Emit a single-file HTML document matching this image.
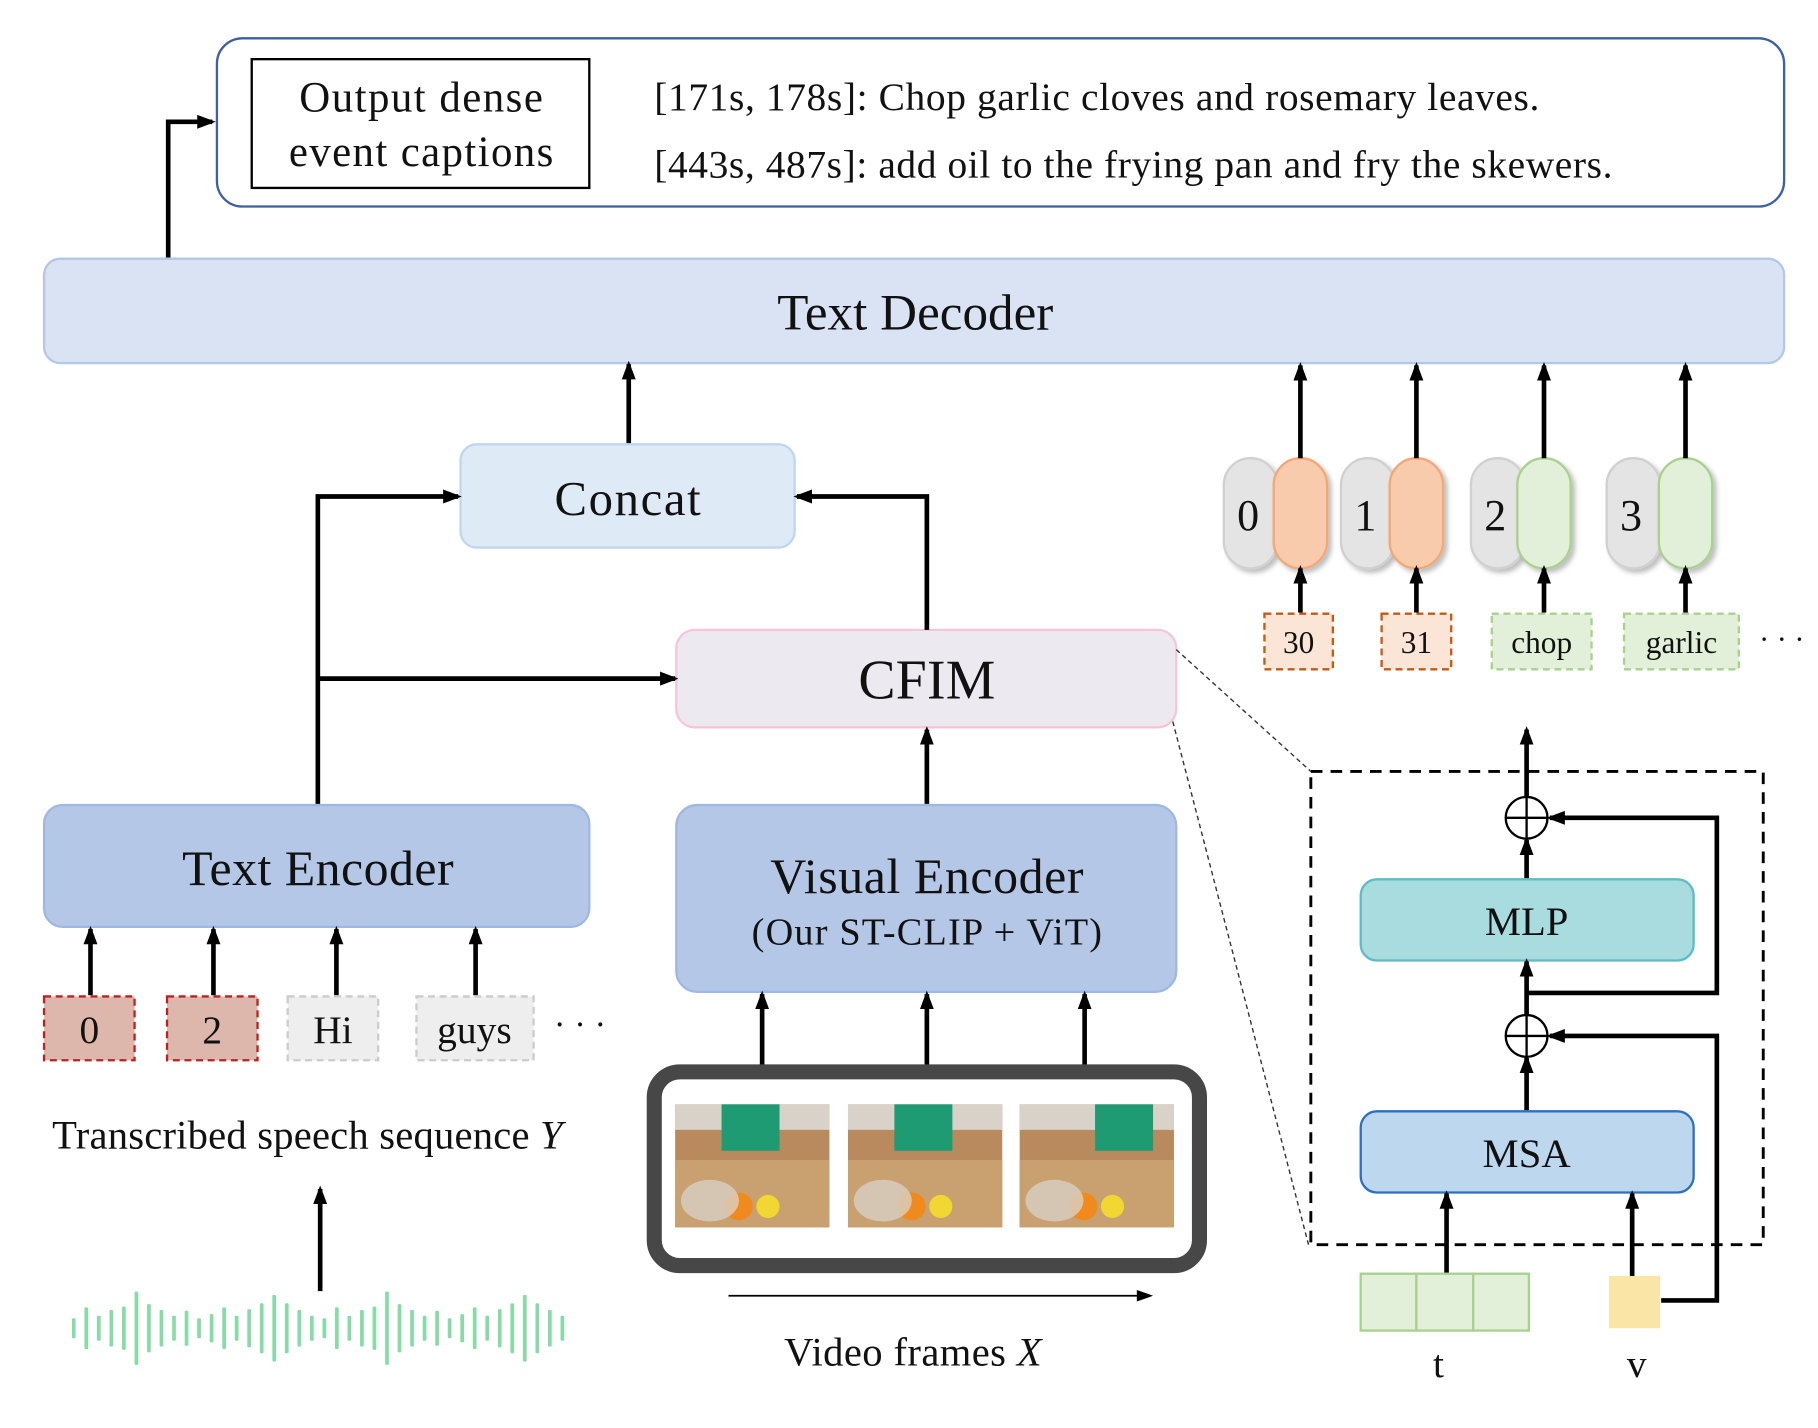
<!DOCTYPE html>
<html><head><meta charset="utf-8"><style>
html,body{margin:0;padding:0;background:#fff;}
svg{display:block;}
text{font-family:"Liberation Serif",serif;fill:#111;}
</style></head><body>
<svg id="s" width="1818" height="1428" viewBox="0 0 1567.2 1231" preserveAspectRatio="none" xmlns="http://www.w3.org/2000/svg">
<defs>
<marker id="as" markerWidth="16" markerHeight="14" refX="13" refY="7" orient="auto" markerUnits="userSpaceOnUse"><path d="M0,1 L16,7 L0,13 z" fill="#000"/></marker>
<filter id="sh" x="-20%" y="-20%" width="150%" height="150%"><feDropShadow dx="3" dy="3" stdDeviation="2" flood-color="#000" flood-opacity="0.25"/></filter>
</defs>
<g stroke="#000" stroke-width="4" fill="none">
<rect x="187" y="33" width="1351" height="145" rx="22" stroke="#3d5fa3" stroke-width="2"/>
<rect x="217" y="51" width="291" height="111" stroke-width="2"/>
<polyline points="145,222 145,105 183,105" marker-end="url(#as)"/>
</g>
<text x="363" y="96" font-size="37" text-anchor="middle" textLength="210">Output dense</text>
<text x="363" y="143" font-size="37" text-anchor="middle" textLength="228">event captions</text>
<text x="564" y="95" font-size="34" textLength="763">[171s, 178s]: Chop garlic cloves and rosemary leaves.</text>
<text x="564" y="153" font-size="34" textLength="826">[443s, 487s]: add oil to the frying pan and fry the skewers.</text>

<rect x="38" y="223" width="1500" height="90" rx="14" fill="#dae3f3" stroke="#b4c7e7" stroke-width="2"/>
<text x="789" y="284" font-size="44" text-anchor="middle" textLength="238">Text Decoder</text>

<rect x="397" y="383" width="288" height="89" rx="14" fill="#deebf7" stroke="#bdd7ee" stroke-width="2"/>
<text x="541" y="444" font-size="42" text-anchor="middle" textLength="126">Concat</text>

<rect x="583" y="543" width="431" height="84" rx="16" fill="#ede9f1" stroke="#f7c6d6" stroke-width="2"/>
<text x="799" y="602" font-size="48" text-anchor="middle" textLength="118">CFIM</text>

<rect x="38" y="694" width="470" height="105" rx="16" fill="#b4c7e7" stroke="#9fb8e2" stroke-width="2"/>
<text x="274" y="763" font-size="43" text-anchor="middle" textLength="234">Text Encoder</text>

<rect x="583" y="694" width="431" height="161" rx="18" fill="#b4c7e7" stroke="#9fb8e2" stroke-width="2"/>
<text x="799" y="770" font-size="43" text-anchor="middle" textLength="270">Visual Encoder</text>
<text x="799" y="814" font-size="33" text-anchor="middle" textLength="302">(Our ST-CLIP + ViT)</text>

<g stroke="#000" stroke-width="4" fill="none">
<line x1="542" y1="382" x2="542" y2="314" marker-end="url(#as)"/>
<polyline points="274,693 274,428 395,428" marker-end="url(#as)"/>
<polyline points="274,585 582,585" marker-end="url(#as)"/>
<polyline points="799,543 799,428 687,428" marker-end="url(#as)"/>
<line x1="799" y1="693" x2="799" y2="629" marker-end="url(#as)"/>
<line x1="78" y1="858" x2="78" y2="801" marker-end="url(#as)"/>
<line x1="184" y1="858" x2="184" y2="801" marker-end="url(#as)"/>
<line x1="290" y1="858" x2="290" y2="801" marker-end="url(#as)"/>
<line x1="410" y1="858" x2="410" y2="801" marker-end="url(#as)"/>
<line x1="276" y1="1113" x2="276" y2="1025" marker-end="url(#as)"/>
<line x1="657" y1="918" x2="657" y2="857" marker-end="url(#as)"/>
<line x1="799" y1="918" x2="799" y2="857" marker-end="url(#as)"/>
<line x1="935" y1="918" x2="935" y2="857" marker-end="url(#as)"/>
</g>

<g stroke-width="2" stroke-dasharray="6,4">
<rect x="38" y="859" width="78" height="55" fill="#ddb7ab" stroke="#b22"/>
<rect x="144" y="859" width="78" height="55" fill="#ddb7ab" stroke="#b22"/>
<rect x="248" y="859" width="78" height="55" fill="#eeeeee" stroke="#ccc"/>
<rect x="359" y="859" width="101" height="55" fill="#eeeeee" stroke="#ccc"/>
</g>
<text x="77" y="899" font-size="34" text-anchor="middle">0</text>
<text x="183" y="899" font-size="34" text-anchor="middle">2</text>
<text x="287" y="899" font-size="34" text-anchor="middle">Hi</text>
<text x="409" y="899" font-size="34" text-anchor="middle">guys</text>
<text x="500" y="893" font-size="30" text-anchor="middle">· · ·</text>
<text x="45" y="990" font-size="35" textLength="440">Transcribed speech sequence <tspan font-style="italic">Y</tspan></text>
<g id="wave" fill="#86dca6"></g>

<rect x="564" y="924" width="470" height="167" rx="22" fill="#fff" stroke="#474747" stroke-width="13"/>
<g id="frames"></g>
<line x1="628" y1="1117" x2="984" y2="1117" stroke="#000" stroke-width="1.5"/>
<path d="M980,1112 L994,1117 L980,1122 z" fill="#000"/>
<text x="787" y="1177" font-size="35" text-anchor="middle" textLength="222">Video frames <tspan font-style="italic">X</tspan></text>

<g id="pills"></g>

<line x1="1014" y1="560" x2="1130" y2="665" stroke="#333" stroke-width="1.2" stroke-dasharray="4,3"/>
<line x1="1011" y1="622" x2="1128" y2="1073" stroke="#333" stroke-width="1.2" stroke-dasharray="4,3"/>
<rect x="1130" y="665" width="390" height="408" fill="none" stroke="#000" stroke-width="2.5" stroke-dasharray="10,7"/>

<rect x="1173" y="758" width="287" height="70" rx="14" fill="#a9dcdf" stroke="#5fbcc4" stroke-width="2"/>
<text x="1316" y="806" font-size="35" text-anchor="middle" textLength="72">MLP</text>
<rect x="1173" y="958" width="287" height="70" rx="14" fill="#bdd7ee" stroke="#2f6fbf" stroke-width="2"/>
<text x="1316" y="1006" font-size="35" text-anchor="middle" textLength="76">MSA</text>

<g stroke="#000" stroke-width="4" fill="none">
<line x1="1316" y1="957" x2="1316" y2="912" marker-end="url(#as)"/>
<line x1="1316" y1="875" x2="1316" y2="829" marker-end="url(#as)"/>
<line x1="1316" y1="757" x2="1316" y2="724" marker-end="url(#as)"/>
<line x1="1316" y1="687" x2="1316" y2="629" marker-end="url(#as)"/>
<polyline points="1316,856 1480,856 1480,705 1336,705" marker-end="url(#as)"/>
<polyline points="1432,1121 1480,1121 1480,893 1336,893" marker-end="url(#as)"/>
<line x1="1247" y1="1098" x2="1247" y2="1029" marker-end="url(#as)"/>
<line x1="1407" y1="1100" x2="1407" y2="1029" marker-end="url(#as)"/>
</g>
<g stroke="#000" stroke-width="2" fill="none">
<circle cx="1316" cy="705" r="18"/><line x1="1298" y1="705" x2="1334" y2="705"/><line x1="1316" y1="687" x2="1316" y2="723"/>
<circle cx="1316" cy="893" r="18"/><line x1="1298" y1="893" x2="1334" y2="893"/><line x1="1316" y1="875" x2="1316" y2="911"/>
</g>
<g fill="#e2f0d9" stroke="#a9d18e" stroke-width="2">
<rect x="1173" y="1098" width="48" height="49"/><rect x="1221" y="1098" width="49" height="49"/><rect x="1270" y="1098" width="48" height="49"/>
</g>
<rect x="1387" y="1100" width="44" height="45" fill="#fbe5a6"/>
<text x="1240" y="1187" font-size="34" text-anchor="middle">t</text>
<text x="1411" y="1187" font-size="34" text-anchor="middle">v</text>
</svg>
<script>
var NS="http://www.w3.org/2000/svg";
function el(p,t,a,txt){var e=document.createElementNS(NS,t);for(var k in a)e.setAttribute(k,a[k]);if(txt)e.textContent=txt;p.appendChild(e);return e;}
var hs=[60,125,75,110,130,220,145,110,75,105,60,85,125,75,115,150,200,150,110,75,60,125,75,110,130,220,145,110,75,105,60,85,125,75,115,150,200,150,110,75];
var w=document.getElementById('wave');
hs.forEach(function(h,i){var H=h/3.48;el(w,'rect',{x:62+i*10.8,y:1145-H/2,width:3.2,height:H,rx:1});});
var f=document.getElementById('frames');
[582,731,879].forEach(function(x,i){
 el(f,'rect',{x:x,y:952,width:133,height:106,fill:'#b98a5e'});
 el(f,'rect',{x:x,y:952,width:133,height:22,fill:'#d9d2c8'});
 el(f,'rect',{x:x+40+(i==2?25:0),y:952,width:50,height:40,fill:'#1f9b73'});
 el(f,'rect',{x:x,y:1000,width:133,height:58,fill:'#c9a070'});
 el(f,'circle',{cx:x+55,cy:1040,r:12,fill:'#f08a1c'});
 el(f,'circle',{cx:x+80,cy:1040,r:10,fill:'#f2d631'});
 el(f,'ellipse',{cx:x+30,cy:1035,rx:25,ry:18,fill:'#d8d0c6',opacity:0.8});
});
var p=document.getElementById('pills');
[[1055,1098,'0','#f8cbad','#f0a878'],[1156,1198,'1','#f8cbad','#f0a878'],[1268,1308,'2','#e2f0d9','#a9d18e'],[1385,1430,'3','#e2f0d9','#a9d18e']].forEach(function(d){
 el(p,'rect',{x:d[0],y:395,width:46,height:95,rx:23,fill:'#e4e4e4',stroke:'#d0d0d0','stroke-width':2,filter:'url(#sh)'});
 el(p,'rect',{x:d[1],y:395,width:46,height:95,rx:23,fill:d[3],stroke:d[4],'stroke-width':2,filter:'url(#sh)'});
 el(p,'text',{x:d[0]+21,y:457,'font-size':38,'text-anchor':'middle'},d[2]);
 var cx=d[1]+23;
 el(p,'line',{x1:cx,y1:395,x2:cx,y2:315,stroke:'#000','stroke-width':4,'marker-end':'url(#as)'});
 el(p,'line',{x1:cx,y1:528,x2:cx,y2:490,stroke:'#000','stroke-width':4,'marker-end':'url(#as)'});
});
[[1090,59,'30','#fbe5d6','#c55a11'],[1191,60,'31','#fbe5d6','#c55a11'],[1286,86,'chop','#e2f0d9','#a9d18e'],[1400,99,'garlic','#e2f0d9','#a9d18e']].forEach(function(d){
 el(p,'rect',{x:d[0],y:529,width:d[1],height:48,fill:d[3],stroke:d[4],'stroke-width':2,'stroke-dasharray':'6,4'});
 el(p,'text',{x:d[0]+d[1]/2,y:563,'font-size':27,'text-anchor':'middle'},d[2]);
});
el(p,'text',{x:1536,y:560,'font-size':26,'text-anchor':'middle'},'· · ·');
</script>
</body></html>
